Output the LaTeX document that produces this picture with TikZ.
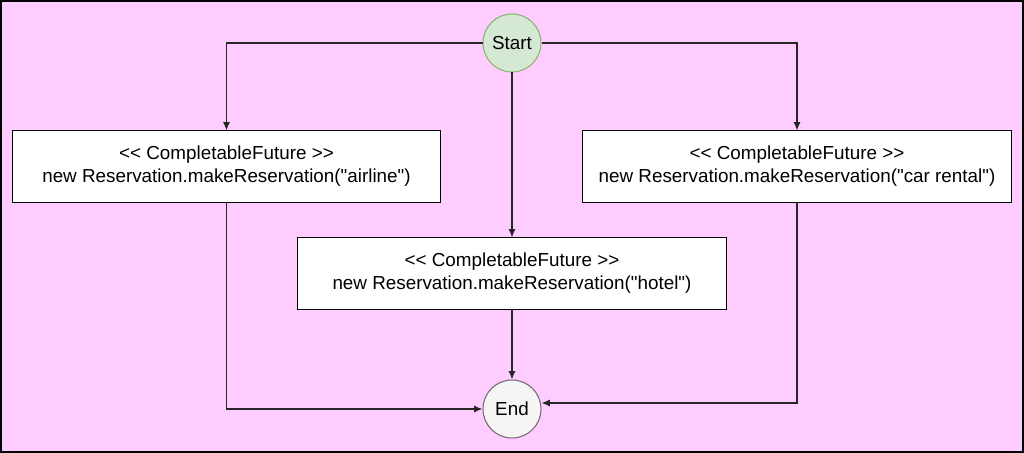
\documentclass[tikz,border=0pt]{standalone}
\usepackage{fontspec}
\setmainfont{Liberation Sans}[Ligatures=TeXOff]
\usetikzlibrary{arrows.meta,positioning,calc}

\definecolor{bgpink}{HTML}{FFCCFF}
\definecolor{startfill}{HTML}{D5E8D4}
\definecolor{startline}{HTML}{82B366}
\definecolor{endfill}{HTML}{F5F5F5}
\definecolor{endline}{HTML}{666666}

\begin{document}
\begin{tikzpicture}[x=0.025cm,y=-0.025cm,>={Latex[length=6pt,width=5pt]},font=\fontsize{13.4}{16.5}\selectfont]
  \tikzstyle{terminal}=[circle,draw,minimum size=1.45cm,inner sep=0pt,line width=0.7pt]
  \tikzstyle{future}=[draw,fill=white,minimum width=10.7cm,minimum height=1.775cm,align=center,line width=0.7pt]
  \tikzstyle{flow}=[->,line width=0.8pt,draw=black!85]
  % background frame
  \draw[fill=bgpink,line width=1.4pt] (1,1) rectangle (1023,452);
  \node[terminal,fill=startfill,draw=startline] (start) at (512,43) {Start};
  \node[terminal,fill=endfill,draw=endline] (end) at (512,409) {End};
  \node[future] (airline) at (226.5,166.5) {<< CompletableFuture >>\\new Reservation.makeReservation("airline")};
  \node[future] (car) at (797,166.5) {<< CompletableFuture >>\\new Reservation.makeReservation("car rental")};
  \node[future] (hotel) at (512,273.5) {<< CompletableFuture >>\\new Reservation.makeReservation("hotel")};
  \draw[flow] (start) -| (airline);
  \draw[flow] (start) -| (car);
  \draw[flow] (start) -- (hotel);
  \draw[flow] (airline) |- (end);
  \draw[flow] (hotel) -- (end);
  \draw[flow] (car) |- ($(end.east)+(0,-6)$);
\end{tikzpicture}
\end{document}
